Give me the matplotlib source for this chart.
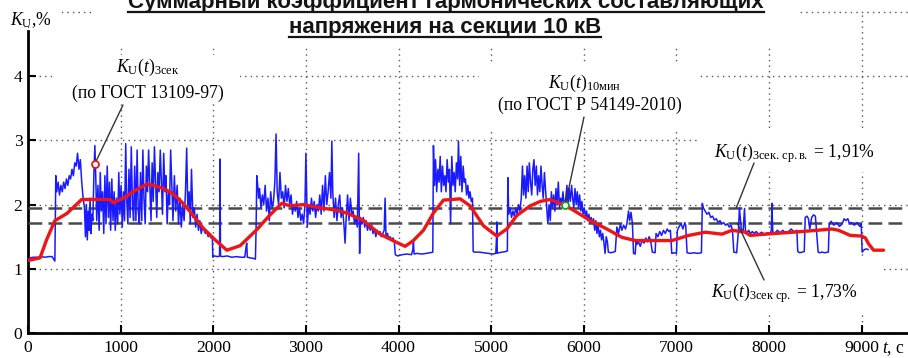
import matplotlib
matplotlib.use("Agg")
import matplotlib.pyplot as plt
from matplotlib.patches import Rectangle
from matplotlib.lines import Line2D
import numpy as np

# ---------------- DATA ----------------
x_ticks = [0, 1000, 2000, 3000, 4000, 5000, 6000, 7000, 8000, 9000]
y_ticks = [0, 1, 2, 3, 4]
y_grid_top = 5

# K_U(t) 3-second values (t, %)
blue_a = [(0, 1.14), (20, 1.17), (60, 1.18), (100, 1.18), (140, 1.19), (180, 1.18), (220, 1.19),
          (260, 1.19), (290, 1.12)]
blue_b = [(300, 2.45), (310, 2.2), (325, 2.35), (340, 2.15), (355, 2.3), (370, 2.2), (385, 2.35),
          (400, 2.25), (415, 2.4), (430, 2.3), (445, 2.45), (460, 2.4), (475, 2.55), (490, 2.45),
          (505, 2.65), (520, 2.6), (535, 2.8), (550, 2.55), (565, 2.7), (580, 2.35), (595, 2.1),
          (610, 1.95), (620, 1.5), (630, 2.0), (640, 1.45), (650, 1.9), (660, 1.6), (670, 2.1),
          (680, 1.55), (690, 1.85), (700, 1.75), (712, 2.5), (722, 2.92), (732, 2.4), (742, 1.75)]
blue_c = [(755, 2.3), (768, 1.6), (780, 2.5), (792, 1.9), (805, 2.2), (818, 1.55), (830, 2.45),
          (842, 1.7), (855, 2.6), (868, 1.8), (880, 2.35), (892, 1.6), (905, 2.4), (918, 1.75),
          (930, 2.2), (942, 1.6), (955, 2.1), (968, 1.7), (980, 2.5), (992, 1.85), (1005, 2.3),
          (1018, 1.65), (1030, 2.2), (1042, 1.75), (1055, 2.95), (1065, 2.1), (1078, 1.7),
          (1090, 2.55), (1102, 1.8), (1115, 2.9), (1128, 2.0), (1140, 1.75), (1152, 2.6),
          (1165, 1.75), (1178, 2.85), (1190, 1.9), (1202, 1.7), (1215, 2.5), (1228, 1.75),
          (1240, 2.85), (1252, 2.1), (1265, 1.7), (1278, 2.6), (1290, 2.2), (1302, 2.85),
          (1315, 2.3), (1328, 1.75), (1340, 2.65), (1352, 2.05), (1365, 2.9), (1378, 2.3),
          (1390, 1.8), (1402, 2.5), (1415, 2.2), (1428, 2.85), (1440, 2.35), (1452, 1.85),
          (1465, 2.8), (1478, 2.2), (1490, 2.45), (1502, 1.7), (1515, 2.2), (1528, 2.0),
          (1540, 2.85), (1552, 2.3)]
blue_d = [(1565, 1.75), (1580, 2.45), (1595, 1.9), (1610, 2.3), (1625, 1.7), (1640, 2.1),
          (1655, 1.65), (1670, 2.0), (1685, 1.75), (1700, 2.2), (1713, 2.88), (1725, 1.95),
          (1740, 2.2), (1752, 1.7), (1765, 2.55), (1780, 1.8), (1795, 1.95), (1810, 1.65),
          (1825, 1.85), (1840, 1.6), (1855, 1.75), (1870, 1.55), (1885, 1.65), (1900, 1.6),
          (1915, 1.55), (1930, 1.58), (1945, 1.5), (1960, 1.55), (1975, 1.48), (1990, 1.5)]
blue_e = [(1995, 1.18), (2010, 1.2), (2050, 1.19), (2068, 1.2), (2073, 2.71), (2078, 1.2),
          (2100, 1.19), (2150, 1.2), (2200, 1.18), (2250, 1.19), (2300, 1.18), (2340, 1.18),
          (2355, 1.35), (2361, 1.4), (2368, 1.18), (2400, 1.17), (2440, 1.16), (2455, 1.15)]
blue_f = [(2462, 1.6), (2470, 2.45), (2480, 2.3), (2490, 2.1), (2500, 2.25), (2515, 1.95),
          (2530, 2.15), (2545, 2.0), (2560, 2.3), (2575, 1.9), (2590, 2.1), (2605, 1.75),
          (2620, 2.2), (2635, 1.95), (2650, 2.05), (2665, 2.35), (2678, 3.1), (2690, 2.2),
          (2705, 2.0), (2720, 2.5), (2735, 2.1), (2750, 2.2), (2765, 1.95), (2780, 2.3),
          (2795, 2.05), (2810, 2.25), (2825, 2.0), (2840, 2.15), (2855, 1.85), (2870, 2.0),
          (2885, 1.9), (2900, 2.05), (2915, 1.8), (2930, 1.95), (2945, 1.75), (2960, 1.85),
          (2975, 1.7), (2990, 2.0), (3000, 2.8), (3015, 1.65), (3030, 2.0), (3045, 1.85),
          (3060, 2.1), (3075, 1.9), (3090, 2.05), (3105, 1.8), (3120, 2.0), (3135, 1.9),
          (3150, 2.15)]
blue_g = [(3165, 1.85), (3180, 2.3), (3195, 1.9), (3210, 2.45), (3225, 2.0), (3240, 2.2),
          (3255, 2.5), (3270, 2.1), (3280, 2.99), (3290, 2.2), (3305, 1.8), (3320, 2.1),
          (3335, 1.75), (3350, 2.0), (3365, 2.15), (3380, 1.8), (3395, 1.95), (3410, 1.7),
          (3423, 1.4), (3435, 1.8), (3450, 2.15), (3465, 1.75), (3480, 2.1), (3495, 1.85),
          (3510, 1.9), (3525, 1.7), (3540, 1.8), (3555, 1.65), (3570, 2.8), (3580, 1.24),
          (3590, 1.8), (3605, 1.7), (3620, 1.8), (3635, 1.65), (3650, 1.75), (3665, 1.6),
          (3680, 1.7), (3695, 1.6), (3710, 1.68), (3725, 1.55), (3740, 1.62), (3755, 1.5),
          (3770, 1.6), (3785, 1.55), (3800, 1.58), (3815, 1.5), (3830, 1.55), (3845, 1.6),
          (3855, 2.1), (3865, 1.5), (3880, 1.55), (3895, 1.47), (3910, 1.5), (3925, 1.45),
          (3940, 1.48), (3955, 1.42)]
blue_h = [(3965, 1.22), (3990, 1.2), (4040, 1.22), (4090, 1.23), (4140, 1.22), (4155, 1.3),
          (4161, 1.42), (4168, 1.23), (4200, 1.24), (4250, 1.23), (4300, 1.24), (4340, 1.25),
          (4370, 1.26)]
blue_i = [(4377, 2.92), (4388, 2.3), (4400, 2.7), (4412, 2.2), (4425, 2.55), (4438, 2.35),
          (4450, 2.75), (4462, 2.2), (4475, 2.6), (4488, 2.3), (4500, 2.45), (4512, 2.2),
          (4525, 2.7), (4538, 2.35), (4550, 2.55), (4562, 1.7), (4575, 2.75), (4588, 2.3),
          (4600, 2.5), (4612, 2.2), (4625, 2.65), (4638, 2.4), (4647, 2.99), (4660, 2.3),
          (4672, 2.75), (4685, 2.2), (4698, 2.6), (4710, 2.35), (4722, 2.4), (4735, 2.15),
          (4748, 2.3), (4760, 2.1), (4772, 2.2), (4785, 2.05), (4798, 2.1)]
blue_j = [(4806, 1.27), (4820, 1.26), (4870, 1.26), (4920, 1.25), (4970, 1.24), (5020, 1.23),
          (5050, 1.24), (5058, 1.5), (5061, 1.73), (5066, 1.24), (5080, 1.25), (5120, 1.26),
          (5160, 1.27), (5175, 1.28)]
blue_k = [(5180, 2.42), (5190, 1.85), (5205, 1.95), (5220, 1.8), (5235, 1.9), (5250, 1.82),
          (5265, 1.95), (5280, 1.85), (5295, 2.0), (5310, 1.9), (5325, 2.1), (5338, 2.6),
          (5350, 2.15), (5362, 2.45), (5375, 2.1), (5388, 2.6), (5400, 2.2), (5412, 2.65),
          (5425, 2.35), (5438, 2.15), (5450, 2.55), (5462, 2.7), (5475, 2.3), (5488, 2.6),
          (5500, 2.15), (5512, 2.45), (5525, 2.2), (5538, 2.6), (5550, 2.3), (5562, 2.1),
          (5575, 2.5), (5588, 2.2), (5600, 1.95), (5612, 1.7), (5625, 2.0), (5638, 1.75),
          (5650, 2.2), (5662, 1.95), (5675, 2.15), (5688, 1.9), (5700, 2.25), (5712, 2.0),
          (5725, 2.35), (5738, 1.95), (5750, 2.1), (5762, 2.0), (5775, 2.2), (5790, 1.95),
          (5805, 2.1), (5818, 2.3), (5830, 2.0), (5842, 2.25), (5855, 2.05), (5868, 2.3),
          (5880, 2.1), (5892, 1.95), (5905, 2.25), (5918, 2.0), (5930, 2.2), (5942, 1.95),
          (5955, 2.15), (5968, 1.9), (5980, 2.05), (5992, 1.85), (6005, 1.95), (6018, 1.8),
          (6030, 1.9), (6042, 1.75), (6055, 1.85), (6068, 1.72), (6080, 1.8), (6092, 1.7),
          (6105, 1.78), (6118, 1.6), (6130, 1.75), (6142, 1.55), (6155, 1.68), (6168, 1.5),
          (6180, 1.6), (6192, 1.45), (6205, 1.55), (6218, 1.4), (6230, 1.24), (6242, 1.5),
          (6255, 1.42)]
blue_l = [(6265, 1.26), (6290, 1.25), (6320, 1.26), (6340, 1.27), (6357, 1.65), (6375, 1.55),
          (6395, 1.7), (6411, 1.6), (6430, 1.68), (6450, 1.62), (6465, 1.7), (6483, 1.9),
          (6495, 1.75), (6510, 1.88), (6525, 1.7), (6537, 1.24), (6555, 1.23), (6565, 1.45),
          (6573, 1.38), (6590, 1.42), (6610, 1.35), (6630, 1.45), (6650, 1.4), (6670, 1.48),
          (6690, 1.42), (6705, 1.5), (6720, 1.45), (6740, 1.26), (6770, 1.25), (6780, 1.55),
          (6800, 1.5), (6820, 1.58), (6840, 1.52), (6860, 1.6), (6880, 1.55), (6900, 1.62),
          (6920, 1.58), (6935, 1.6), (6950, 1.24), (6980, 1.25), (7000, 1.24), (7010, 1.6),
          (7030, 1.66), (7050, 1.7), (7070, 1.62), (7090, 1.72), (7100, 1.68), (7115, 1.25),
          (7150, 1.24), (7190, 1.25), (7230, 1.24), (7270, 1.25), (7280, 2.02), (7290, 1.95),
          (7310, 1.9), (7330, 1.85), (7350, 1.88), (7370, 1.8), (7390, 1.82), (7410, 1.76),
          (7430, 1.78), (7450, 1.72), (7470, 1.75), (7490, 1.7), (7510, 1.72), (7530, 1.68),
          (7550, 1.7), (7570, 1.65), (7590, 1.68), (7605, 1.6), (7620, 1.26), (7650, 1.25),
          (7670, 1.6), (7680, 1.95), (7700, 1.62), (7720, 1.58), (7735, 1.94), (7745, 1.6),
          (7760, 1.56), (7780, 1.6), (7800, 1.55), (7820, 1.58), (7840, 1.55)]
blue_m = [(7860, 1.58), (7890, 1.54), (7920, 1.57), (7950, 1.53), (7980, 1.56), (8010, 1.55),
          (8025, 1.6), (8031, 2.02), (8040, 1.58), (8060, 1.55), (8090, 1.6), (8120, 1.56),
          (8150, 1.6), (8180, 1.55), (8210, 1.58), (8240, 1.62), (8270, 1.57), (8300, 1.6),
          (8310, 1.27), (8330, 1.25), (8360, 1.26), (8380, 1.27), (8390, 1.8), (8410, 1.82),
          (8425, 1.78), (8440, 1.62), (8460, 1.8), (8480, 1.84), (8500, 1.82), (8530, 1.26),
          (8545, 1.25), (8570, 1.26), (8600, 1.25), (8640, 1.26), (8650, 1.7), (8670, 1.74),
          (8700, 1.68), (8730, 1.72), (8760, 1.66), (8790, 1.7), (8810, 1.78), (8830, 1.75),
          (8850, 1.78), (8870, 1.7), (8890, 1.72), (8920, 1.68), (8950, 1.72), (8980, 1.66),
          (8995, 1.7), (9005, 1.26), (9030, 1.3), (9050, 1.31), (9070, 1.3)]

# K_U(t) 10-minute values (t, %)
red_t = [0, 130, 200, 290, 418, 500, 580, 700, 885, 920, 1030, 1135, 1282, 1380, 1480, 1570,
         1660, 1750, 1893, 2020, 2146, 2290, 2470, 2613, 2740, 2830, 2970, 3153, 3300, 3441,
         3620, 3800, 3982, 4071, 4160, 4269, 4377, 4485, 4580, 4665, 4773, 4917, 5061, 5169,
         5277, 5421, 5530, 5637, 5799, 5925, 6069, 6249, 6411, 6555, 6750, 6951, 7131, 7311,
         7491, 7600, 7743, 7797, 7960, 8157, 8350, 8517, 8679, 8750, 8877, 9000, 9040, 9074,
         9128, 9236]
red_v = [1.13, 1.17, 1.45, 1.75, 1.86, 1.97, 2.08, 2.08, 2.08, 2.03, 2.1, 2.2, 2.32, 2.29,
         2.24, 2.16, 2.04, 1.89, 1.63, 1.45, 1.29, 1.36, 1.61, 1.84, 2.02, 1.98, 2.0, 1.95,
         1.92, 1.87, 1.75, 1.54, 1.41, 1.35, 1.44, 1.6, 1.87, 2.07, 2.08, 2.09, 1.98, 1.67,
         1.51, 1.62, 1.83, 1.98, 2.05, 2.08, 1.99, 1.88, 1.75, 1.62, 1.49, 1.44, 1.44, 1.44,
         1.52, 1.57, 1.54, 1.6, 1.57, 1.52, 1.54, 1.56, 1.58, 1.6, 1.62, 1.6, 1.52, 1.51, 1.48,
         1.39, 1.29, 1.29]

avg_upper = 1.95   # K_U 3сек ср.в. line as drawn
avg_lower = 1.71   # K_U 3сек ср. line as drawn
mark_3s = (723, 2.64)
mark_10m_t = 5799
mark_upper_t = 7646
mark_lower_t = 7657

title_lines = ["Суммарный коэффициент гармонических составляющих",
               "напряжения на секции 10 кВ"]

# ---------------- STYLE ----------------
plt.rcParams['font.family'] = ['Liberation Serif', 'DejaVu Serif']
plt.rcParams['mathtext.fontset'] = 'custom'
plt.rcParams['mathtext.rm'] = 'Liberation Serif'
plt.rcParams['mathtext.it'] = 'Liberation Serif:italic'
plt.rcParams['mathtext.bf'] = 'Liberation Serif:bold'

W, H = 908, 358
fig = plt.figure(figsize=(W / 100, H / 100), dpi=100)
ax = fig.add_axes([28 / W, 25 / H, 880 / W, 321 / H])

blue = blue_a + blue_b + blue_c + blue_d + blue_e + blue_f + blue_g + blue_h + blue_i + blue_j + blue_k + blue_l + blue_m
bt = [p[0] for p in blue]
bv = [p[1] for p in blue]

ax.plot(bt, bv, color='#1a1aff', lw=1.1, zorder=3)
ax.plot(red_t, red_v, color='#f01414', lw=2.4, zorder=4, solid_capstyle='round')

ax.axhline(avg_upper, color='#4a4a4a', lw=1.8, ls=(0, (5.5, 2.5)), zorder=2.6)
ax.axhline(avg_lower, color='#4a4a4a', lw=1.8, ls=(0, (5.5, 2.5)), zorder=2.6)

ax.plot([mark_3s[0]], [mark_3s[1]], 'o', ms=5, mfc='white', mec='#f01414', mew=1.3, zorder=6)
mark_10m_v = float(np.interp(mark_10m_t, red_t, red_v))
ax.plot([mark_10m_t], [mark_10m_v], 'o', ms=5, mfc='white', mec='#1aa01a', mew=1.3, zorder=6)

ax.set_xlim(0, 9500)
ax.set_ylim(0, 5)
ax.set_xticks(x_ticks)
ax.set_xticklabels([str(v) for v in x_ticks])
ax.set_yticks(y_ticks)
ax.set_yticklabels([str(v) for v in y_ticks])
ax.set_axisbelow(True)
ax.grid(True, color='#555555', lw=1.0, ls=(0, (1, 3)))
ax.axhline(y_grid_top, color='#555555', lw=1.0, ls=(0, (1, 3)), zorder=0.5, clip_on=False)
for s in ['top', 'right']:
    ax.spines[s].set_visible(False)
for s in ['left', 'bottom']:
    ax.spines[s].set_linewidth(2.0)
ax.spines['left'].set_bounds(0, 4.7)
ax.tick_params(direction='in', length=6, width=1.5, labelsize=12.6, pad=5)
ax.tick_params(axis='y', pad=4)
ax.set_facecolor('white')

# white cover boxes (text regions), pixel coords from top-left
def cover(x0, y0, x1, y1):
    r = Rectangle((x0 / W, 1 - y1 / H), (x1 - x0) / W, (y1 - y0) / H,
                  transform=fig.transFigure, facecolor='white', edgecolor='none', zorder=1.5)
    r.set_clip_on(False)
    ax.add_patch(r)

cover(93, 0, 797, 48)
cover(26, 0, 62, 24)
cover(55, 55, 240, 103)
cover(479, 65, 699, 128)
cover(700, 130, 908, 172)
cover(693, 258, 880, 315)

def ftext(px, py, s, **kw):
    return fig.text(px / W, 1 - py / H, s, **kw)

fs = 12.7
ftext(10, 25, r'$K_{\mathrm{U}}$,%', fontsize=fs, va='baseline', ha='left')
ftext(148, 72, r'$K_{\mathrm{U}}(t)_{\mathrm{3сек}}$', fontsize=fs, va='baseline', ha='center')
ftext(148, 98, '(по ГОСТ 13109-97)', fontsize=fs, va='baseline', ha='center')
ftext(585, 88, r'$K_{\mathrm{U}}(t)_{\mathrm{10мин}}$', fontsize=fs, va='baseline', ha='center')
ftext(590, 110, '(по ГОСТ Р 54149-2010)', fontsize=fs, va='baseline', ha='center')
ftext(714, 157, r'$K_{\mathrm{U}}(t)_{\mathrm{3сек.\,ср.в.}}$' + ' = 1,91%', fontsize=fs,
      va='baseline', ha='left')
ftext(711, 297, r'$K_{\mathrm{U}}(t)_{\mathrm{3сек\ ср.}}$' + ' = 1,73%', fontsize=fs,
      va='baseline', ha='left')
ftext(882, 353, r'$t$, с', fontsize=fs, va='baseline', ha='left')

# leader lines
lk = dict(arrowstyle='-', color='#333333', lw=1.0, shrinkA=0, shrinkB=2.5)
ax.annotate('', xy=mark_3s, xytext=(123, H - 105), textcoords='figure pixels',
            arrowprops=lk, zorder=7)
ax.annotate('', xy=(mark_10m_t, mark_10m_v), xytext=(584, H - 117), textcoords='figure pixels',
            arrowprops=lk, zorder=7)
lk0 = dict(arrowstyle='-', color='#333333', lw=1.0, shrinkA=0, shrinkB=0)
ax.annotate('', xy=(mark_upper_t, avg_upper), xytext=(754, H - 163), textcoords='figure pixels',
            arrowprops=lk0, zorder=7)
ax.annotate('', xy=(mark_lower_t, avg_lower), xytext=(764, H - 280), textcoords='figure pixels',
            arrowprops=lk0, zorder=7)

# title with underline
tfs = 16
t1 = ftext(446, 8, title_lines[0], fontsize=tfs, fontweight='bold', family='Liberation Sans',
           ha='center', va='baseline', color='#151515')
t2 = ftext(445, 33, title_lines[1], fontsize=tfs, fontweight='bold', family='Liberation Sans',
           ha='center', va='baseline', color='#151515')
fig.canvas.draw()
r = fig.canvas.get_renderer()
for t, by in [(t1, 8), (t2, 33)]:
    bb = t.get_window_extent(renderer=r)
    yy = 1 - (by + 3.5) / H
    fig.add_artist(Line2D([bb.x0 / W, bb.x1 / W], [yy, yy], transform=fig.transFigure,
                          color='#151515', lw=1.6))

fig.savefig('out.png', dpi=100)
